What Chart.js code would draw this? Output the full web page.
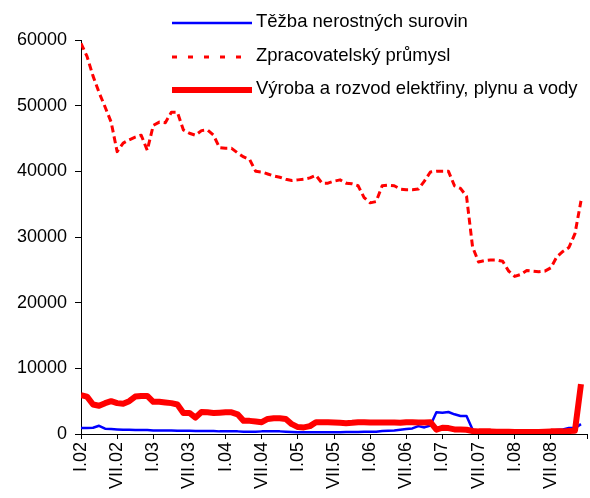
<!DOCTYPE html>
<html>
<head>
<meta charset="utf-8">
<script src="https://cdn.jsdelivr.net/npm/chart.js@4"></script>
<style>
  html, body { margin: 0; padding: 0; background: #fff; }
  #wrap { width: 590px; height: 498px; position: relative; }
</style>
</head>
<body>
<div id="wrap"><canvas id="chart"></canvas></div>
<script>
// monthly values I.02 .. XII.08
const tezba = [
  900, 900, 950, 1250, 800, 750, 700, 650, 650, 600,
  600, 600, 550, 550, 550, 550, 500, 500, 500, 450,
  450, 450, 450, 400, 400, 400, 400, 350, 350, 350,
  400, 400, 400, 400, 350, 300, 250, 250, 250, 250,
  250, 250, 250, 250, 300, 300, 300, 350, 350, 350,
  450, 500, 550, 650, 750, 850, 1200, 1000, 1300, 3300,
  3250, 3350, 3000, 2750, 2750, 700, 300, 300, 300, 300,
  300, 300, 300, 300, 300, 300, 350, 400, 500, 600,
  700, 900, 900, 1500
];
const zpracovatelsky = [
  59500, 57500, 54500, 52000, 49800, 47500, 43000, 44300, 44800, 45200,
  45500, 43200, 47000, 47500, 47400, 49000, 49000, 46300, 45800, 45500,
  46200, 46300, 45500, 43600, 43500, 43500, 42800, 42200, 41800, 40000,
  39900, 39600, 39300, 39100, 38800, 38600, 38700, 38800, 39000, 39400,
  38200, 38200, 38500, 38700, 38200, 38100, 37800, 36000, 35200, 35400,
  37800, 37900, 37800, 37300, 37200, 37200, 37300, 38500, 39900, 40000,
  40000, 40000, 37800, 37400, 36200, 28500, 26200, 26400, 26500, 26500,
  26300, 24800, 24000, 24300, 24900, 24800, 24700, 24800, 25300, 27000,
  27800, 28400, 30500, 35500
];
const vyroba = [
  5900, 5700, 4500, 4300, 4700, 5000, 4700, 4600, 5000, 5700,
  5800, 5800, 4900, 4900, 4800, 4700, 4500, 3200, 3200, 2500,
  3350, 3300, 3200, 3250, 3300, 3300, 3000, 2000, 2000, 1900,
  1800, 2300, 2400, 2400, 2300, 1500, 1050, 1000, 1200, 1800,
  1800, 1800, 1750, 1700, 1650, 1700, 1800, 1800, 1750, 1750,
  1750, 1750, 1750, 1700, 1800, 1800, 1750, 1750, 1800, 650,
  950, 900, 700, 700, 650, 450, 400, 400, 400, 350,
  350, 350, 300, 300, 300, 300, 300, 350, 400, 400,
  400, 450, 500, 7600
];
const xLabels = ['I.02', 'VII.02', 'I.03', 'VII.03', 'I.04', 'VII.04', 'I.05',
  'VII.05', 'I.06', 'VII.06', 'I.07', 'VII.07', 'I.08', 'VII.08'];
const seriesNames = ['Těžba nerostných surovin', 'Zpracovatelský průmysl',
  'Výroba a rozvod elektřiny, plynu a vody'];

const font = '"Liberation Sans", Arial, sans-serif';
const toPoints = (arr) => arr.map((v, i) => ({ x: i, y: v }));

// legend drawn in the upper right, like the original
const legendPlugin = {
  id: 'sideLegend',
  afterDraw(chart) {
    const ctx = chart.ctx;
    const rows = [23, 57, 90];
    ctx.save();
    chart.data.datasets.forEach((ds, i) => {
      const y = rows[i];
      ctx.beginPath();
      ctx.strokeStyle = ds.borderColor;
      ctx.lineWidth = ds.borderWidth;
      ctx.setLineDash(i === 1 ? [5, 11] : []);
      ctx.moveTo(172, y);
      ctx.lineTo(252, y);
      ctx.stroke();
      ctx.setLineDash([]);
      ctx.fillStyle = '#000';
      ctx.font = '18.5px ' + font;
      ctx.textBaseline = 'middle';
      ctx.fillText(ds.label, 256, y - 1);
    });
    ctx.restore();
  }
};

new Chart(document.getElementById('chart'), {
  type: 'line',
  data: {
    datasets: [
      {
        label: seriesNames[0],
        data: toPoints(tezba),
        borderColor: '#0000ff',
        borderWidth: 2.5,
        order: 3
      },
      {
        label: seriesNames[1],
        data: toPoints(zpracovatelsky),
        borderColor: '#ff0000',
        borderWidth: 3,
        borderDash: [7, 4],
        order: 2
      },
      {
        label: seriesNames[2],
        data: toPoints(vyroba),
        borderColor: '#ff0000',
        borderWidth: 6,
        order: 1
      }
    ]
  },
  options: {
    responsive: true,
    maintainAspectRatio: false,
    animation: false,
    elements: { point: { radius: 0 }, line: { tension: 0, borderJoinStyle: 'round' } },
    layout: { padding: { top: 40, right: 3, bottom: 0, left: 0 } },
    plugins: { legend: { display: false }, tooltip: { enabled: false } },
    scales: {
      x: {
        type: 'linear',
        min: 0,
        max: 84,
        afterFit(scale) {
          scale.height = 64;
          scale.paddingLeft = 0;
          scale.paddingRight = 0;
        },
        grid: { drawOnChartArea: false, drawTicks: true, tickLength: 5, color: '#000' },
        border: { display: true, color: '#000', width: 1 },
        ticks: {
          stepSize: 6,
          autoSkip: false,
          minRotation: 90,
          maxRotation: 90,
          padding: 3,
          color: '#000',
          font: { family: font, size: 18 },
          callback: (v) => xLabels[v / 6] || ''
        }
      },
      y: {
        min: 0,
        max: 60000,
        afterFit(scale) { scale.width = 81; },
        grid: { drawOnChartArea: false, drawTicks: true, tickLength: 6, color: '#000' },
        border: { display: true, color: '#000', width: 1 },
        ticks: {
          stepSize: 10000,
          padding: 8,
          color: '#000',
          font: { family: font, size: 18 },
          callback: (v) => String(v)
        }
      }
    }
  },
  plugins: [legendPlugin]
});
</script>
</body>
</html>
